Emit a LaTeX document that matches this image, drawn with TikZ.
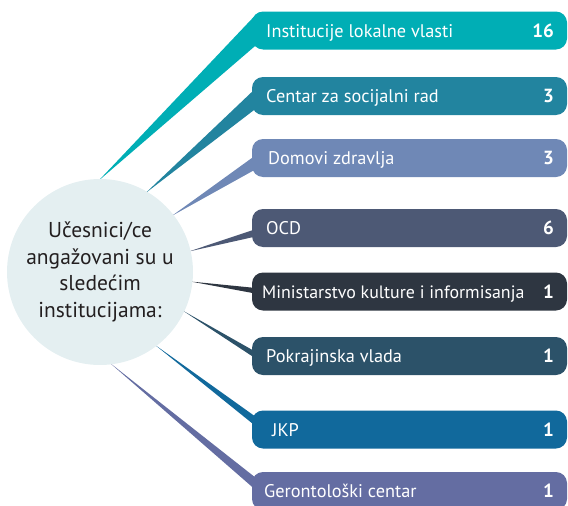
\documentclass[tikz,border=0pt]{standalone}
\usepackage{fontspec}
\setmainfont{PT Sans}
\usetikzlibrary{calc}
\definecolor{cA}{HTML}{00AEB5}
\definecolor{cB}{HTML}{22849F}
\definecolor{cC}{HTML}{6F88B6}
\definecolor{cD}{HTML}{4D5975}
\definecolor{cE}{HTML}{2E3641}
\definecolor{cF}{HTML}{2C5269}
\definecolor{cG}{HTML}{11699C}
\definecolor{cH}{HTML}{646DA2}
\definecolor{circ}{HTML}{E4EFF1}
\definecolor{ink}{HTML}{231F20}
\pgfdeclarelayer{background}
\pgfsetlayers{background,main}
\begin{document}
\begin{tikzpicture}[x=1pt,y=-1pt,
  bar/.style={rectangle, rounded corners=11pt, minimum width=315pt, minimum height=38pt, inner sep=0pt, outer sep=0pt},
  lab/.style={text=white, font=\fontsize{18.3}{20}\selectfont, anchor=base west, inner sep=0pt},
  num/.style={text=white, font=\fontsize{19}{21}\selectfont\bfseries, anchor=base east, inner sep=0pt},
  hub/.style={circle, fill=circ, minimum size=186pt, inner sep=0pt, outer sep=0pt, align=center, text=ink, font=\fontsize{21.5}{26.5}\selectfont}]
\useasboundingbox (0,0) rectangle (568,506);
\clip (0,0) rectangle (568,506);
\node[hub] (c) at (100,272) {Učesnici/ce\\angažovani su u\\sledećim\\institucijama:};
\node[bar, fill=cA] (b1) at (409.5,30.5) {};
\node[bar, fill=cB] (b2) at (409.5,96) {};
\node[bar, fill=cC] (b3) at (409.5,158) {};
\node[bar, fill=cD] (b4) at (409.5,228) {};
\node[bar, fill=cE] (b5) at (409.5,291.5) {};
\node[bar, fill=cF] (b6) at (409.5,356) {};
\node[bar, fill=cG] (b7) at (409.5,429.5) {};
\node[bar, fill=cH] (b8) at (409.5,491) {};
\begin{pgfonlayer}{background}
\fill[cA] ($(b1.west)+(4,-16)$) -- ($(b1.west)+(6,13)$) -- ($(c.center)!0.98!(c.91)$) -- cycle;
\fill[cB] ($(b2.west)+(4,-8)$) -- ($(b2.west)+(6,11)$) -- ($(c.center)!0.98!(c.60.6)$) -- cycle;
\fill[cC] ($(b3.west)+(4,-3)$) -- ($(b3.west)+(6,10)$) -- ($(c.center)!0.98!(c.38)$) -- cycle;
\fill[cD] ($(b4.west)+(4,1)$) -- ($(b4.west)+(6,8)$) -- ($(c.center)!0.98!(c.13.7)$) -- cycle;
\fill[cE] ($(b5.west)+(4,-3.5)$) -- ($(b5.west)+(6,2.5)$) -- ($(c.center)!0.98!(c.-6)$) -- cycle;
\fill[cF] ($(b6.west)+(4,-4)$) -- ($(b6.west)+(6,4)$) -- ($(c.center)!0.98!(c.-25.7)$) -- cycle;
\fill[cG] ($(b7.west)+(4,-12.5)$) -- ($(b7.west)+(6,-1.5)$) -- ($(c.center)!0.98!(c.-53.6)$) -- cycle;
\fill[cH] ($(b8.west)+(4,-13)$) -- ($(b8.west)+(6,1)$) -- ($(c.center)!0.98!(c.-84)$) -- cycle;
\end{pgfonlayer}
\node[lab] (t1) at ($(b1.west)+(14,6.5)$) {Institucije lokalne vlasti};
\node[lab] (t2) at ($(b2.west)+(14,6.5)$) {Centar za socijalni rad};
\node[lab] (t3) at ($(b3.west)+(16,6.5)$) {Domovi zdravlja};
\node[lab] (t4) at ($(b4.west)+(14,6.5)$) {OCD};
\node[lab, font=\fontsize{17.9}{20}\selectfont] (t5) at ($(b5.west)+(10,6.5)$) {Ministarstvo kulture i informisanja};
\node[lab] (t6) at ($(b6.west)+(14,6.5)$) {Pokrajinska vlada};
\node[lab] (t7) at ($(b7.west)+(20,6.5)$) {JKP};
\node[lab] (t8) at ($(b8.west)+(12,6.5)$) {Gerontološki centar};
\node[num] (n1) at ($(b1.east)+(-13,6.5)$) {16};
\node[num] (n2) at ($(b2.east)+(-13,6.5)$) {3};
\node[num] (n3) at ($(b3.east)+(-13,6.5)$) {3};
\node[num] (n4) at ($(b4.east)+(-13,6.5)$) {6};
\node[num] (n5) at ($(b5.east)+(-13,6.5)$) {1};
\node[num] (n6) at ($(b6.east)+(-13,6.5)$) {1};
\node[num] (n7) at ($(b7.east)+(-13,6.5)$) {1};
\node[num] (n8) at ($(b8.east)+(-13,6.5)$) {1};
\end{tikzpicture}
\end{document}
